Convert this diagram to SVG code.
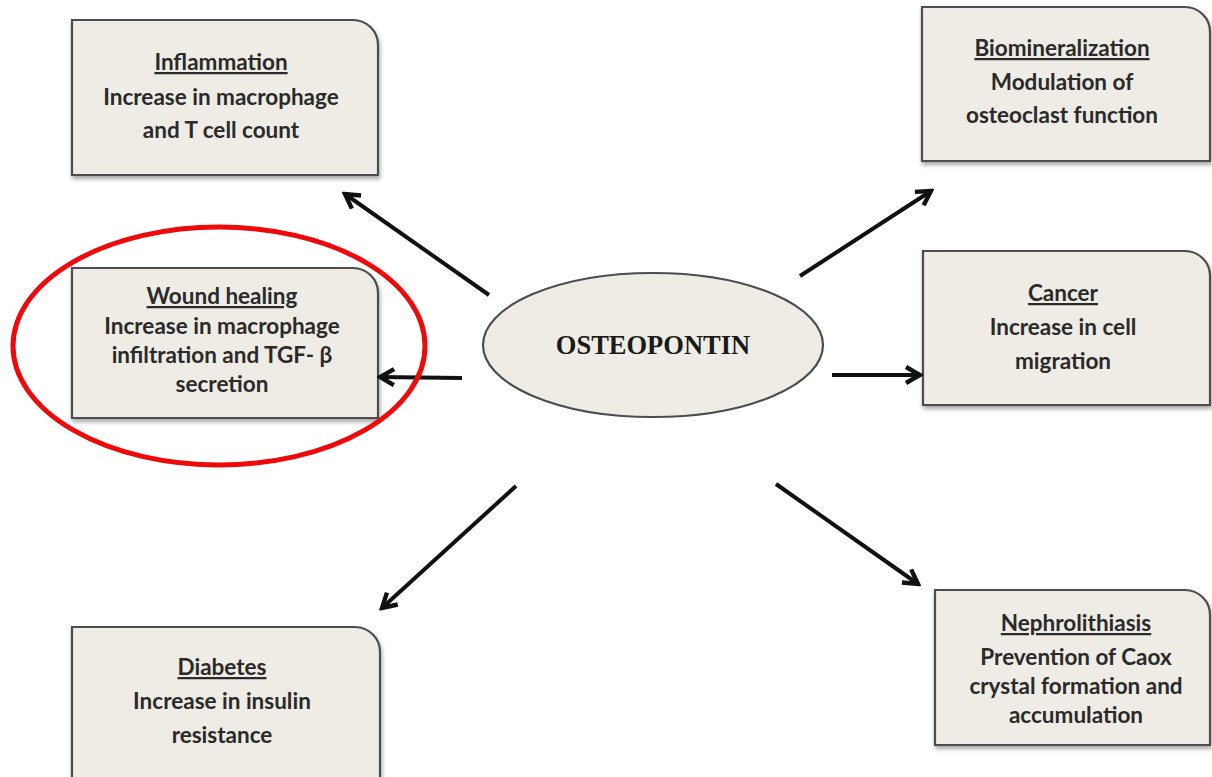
<svg xmlns="http://www.w3.org/2000/svg" width="1212" height="777" viewBox="0 0 1212 777">
<style>
.box{fill:#eeece5;stroke:#4d4d4d;stroke-width:2.2}
.t{font-family:Lato,"Open Sans",sans-serif;font-weight:bold;font-size:22.5px;fill:#2a2a2a;text-anchor:middle}
.u{text-decoration:underline}
.arr{stroke:#111;stroke-width:4;fill:none;marker-end:url(#ah)}
</style>
<defs>
<marker id="ah" viewBox="0 0 10 10" refX="8.5" refY="5" markerWidth="20" markerHeight="20" markerUnits="userSpaceOnUse" orient="auto">
<path d="M1.5,1 L8.5,5 L1.5,9" fill="none" stroke="#111" stroke-width="2.2" stroke-linejoin="miter"/>
</marker>
<filter id="sh" x="-5%" y="-5%" width="115%" height="120%">
<feDropShadow dx="1" dy="3" stdDeviation="2" flood-color="#000" flood-opacity="0.35"/>
</filter>
</defs>
<rect width="1212" height="777" fill="#fff"/>

<g id="inflammation">
<path class="box" filter="url(#sh)" d="M72,20 H353 A25,25 0 0 1 378,45 V175 H72 Z"/>
<text class="t u" x="221" y="70">Inflammation</text>
<text class="t" x="221" y="105">Increase in macrophage</text>
<text class="t" x="221" y="138">and T cell count</text>
</g>

<g id="biomineralization">
<path class="box" filter="url(#sh)" d="M922,7 H1185 A25,25 0 0 1 1210,32 V161 H922 Z"/>
<text class="t u" x="1062" y="56">Biomineralization</text>
<text class="t" x="1062" y="90">Modulation of</text>
<text class="t" x="1062" y="123">osteoclast function</text>
</g>

<g id="wound-healing">
<path class="box" filter="url(#sh)" d="M72,268 H353 A25,25 0 0 1 378,293 V418 H72 Z"/>
<text class="t u" x="222" y="304">Wound healing</text>
<text class="t" x="222" y="334">Increase in macrophage</text>
<text class="t" x="222" y="363">infiltration and TGF- β</text>
<text class="t" x="222" y="392">secretion</text>
</g>

<g id="cancer">
<path class="box" filter="url(#sh)" d="M923,251 H1185 A25,25 0 0 1 1210,276 V405 H923 Z"/>
<text class="t u" x="1063" y="301">Cancer</text>
<text class="t" x="1063" y="335">Increase in cell</text>
<text class="t" x="1063" y="369">migration</text>
</g>

<g id="diabetes">
<path class="box" filter="url(#sh)" d="M72,627 H355 A25,25 0 0 1 380,652 V790 H72 Z"/>
<text class="t u" x="222" y="675">Diabetes</text>
<text class="t" x="222" y="709">Increase in insulin</text>
<text class="t" x="222" y="743">resistance</text>
</g>

<g id="nephrolithiasis">
<path class="box" filter="url(#sh)" d="M935,590 H1185 A25,25 0 0 1 1210,615 V745 H935 Z"/>
<text class="t u" x="1076" y="631">Nephrolithiasis</text>
<text class="t" x="1076" y="665">Prevention of Caox</text>
<text class="t" x="1076" y="694">crystal formation and</text>
<text class="t" x="1076" y="723">accumulation</text>
</g>

<g id="osteopontin">
<ellipse cx="653" cy="345" rx="170" ry="72" fill="#eeece5" stroke="#4d4d4d" stroke-width="2.2"/>
<text x="653" y="354" font-family="'Liberation Serif',serif" font-weight="bold" font-size="26.5" fill="#1a1a1a" text-anchor="middle">OSTEOPONTIN</text>
</g>

<g id="connectors">
<line class="arr" x1="489" y1="295" x2="345" y2="194"/>
<line class="arr" x1="800" y1="276" x2="931" y2="191"/>
<line class="arr" x1="462" y1="378" x2="380" y2="377"/>
<line class="arr" x1="832" y1="375" x2="920" y2="375"/>
<line class="arr" x1="516" y1="486" x2="382" y2="608"/>
<line class="arr" x1="776" y1="484" x2="918" y2="584"/>
</g>

<g id="highlight">
<ellipse cx="219" cy="346" rx="206" ry="119" fill="none" stroke="#ee0a0a" stroke-width="5"/>
</g>
</svg>
